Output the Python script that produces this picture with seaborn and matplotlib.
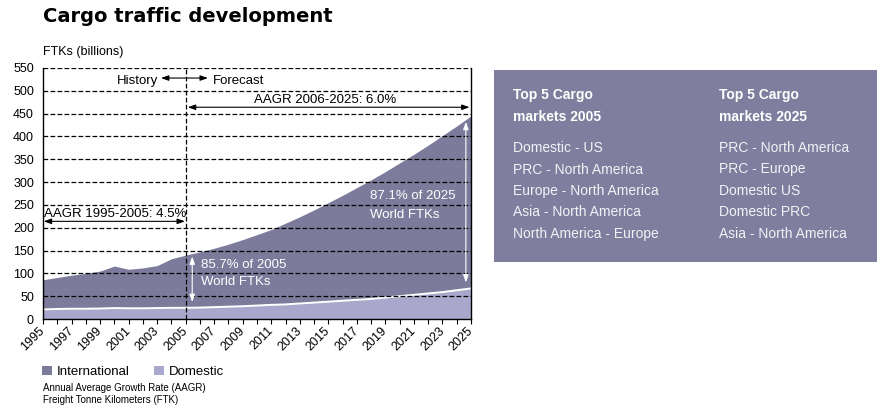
import matplotlib
matplotlib.use("Agg")
import matplotlib.pyplot as plt
from matplotlib.patches import Patch, Rectangle
import pandas as pd
import seaborn as sns

# FTKs (billions), 1995-2005 history and 2006-2025 forecast
years = list(range(1995, 2026))
domestic_ftk = [21, 22, 22.5, 22.5, 23, 24, 23.5, 23.5, 24, 24.5, 24.5,
                25, 26, 27, 28, 29.5, 31, 32, 34, 36, 38,
                40, 42, 44, 47, 50, 53, 56, 59, 63, 67]
international_ftk = [65, 69, 73.5, 77.5, 82, 92, 85.5, 88.5, 93, 107.5, 115.5,
                     122, 129, 137, 146, 155.5, 165, 178, 190, 203, 217,
                     231, 246, 261, 276, 292, 308, 325, 343, 360, 378]
y_ticks = list(range(0, 551, 50))
label_years = list(range(1995, 2026, 2))

series_names = ["International", "Domestic"]
top5_2005 = ["Domestic - US", "PRC - North America", "Europe - North America",
             "Asia - North America", "North America - Europe"]
top5_2025 = ["PRC - North America", "PRC - Europe", "Domestic US",
             "Domestic PRC", "Asia - North America"]

INTL = "#7c7b9b"
DOM = "#a9a8cc"
BOX = "#7f7e9e"

df = pd.DataFrame({"year": years, "Domestic": domestic_ftk,
                   "International": international_ftk})
df["Total"] = df["Domestic"] + df["International"]

sns.set_style("white")
plt.rcParams["font.family"] = ["Liberation Sans", "DejaVu Sans"]
for key in ["text.color", "axes.labelcolor", "xtick.color", "ytick.color"]:
    plt.rcParams[key] = "black"

W, H = 878, 409
fig = plt.figure(figsize=(W / 100, H / 100), dpi=100)
ax = fig.add_axes([43 / W, 1 - 319 / H, (471 - 43) / W, (319 - 68) / H])

# stacked areas: domestic at the bottom, international on top
ax.fill_between(df["year"], 0, df["Domestic"], color=DOM, lw=0, zorder=1)
ax.fill_between(df["year"], df["Domestic"], df["Total"], color=INTL, lw=0, zorder=1)
sns.lineplot(data=df, x="year", y="Domestic", color="white", lw=1.4,
             ax=ax, zorder=2, legend=False)

ax.set_xlim(1995, 2025)
ax.set_ylim(0, 550)

dash = (0, (3.8, 1.8))
for yv in y_ticks[1:]:
    ax.axhline(yv, color="black", lw=0.9, ls=dash, zorder=3)
ax.axvline(2005, color="black", lw=0.9, ls=dash, zorder=3)

for side in ["left", "bottom", "right"]:
    ax.spines[side].set_visible(True)
    ax.spines[side].set_color("black")
    ax.spines[side].set_linewidth(1.0)
ax.spines["top"].set_visible(False)

ax.set_yticks(y_ticks)
ax.set_yticklabels([str(v) for v in y_ticks], fontsize=9)
ax.tick_params(axis="y", length=0, pad=6.5)
ax.set_xticks(years, minor=True)
ax.set_xticks(label_years)
ax.set_xticklabels([str(y) for y in label_years], fontsize=9, rotation=45,
                   ha="right", va="center", rotation_mode="anchor")
ax.tick_params(axis="x", which="both", direction="out", length=3.5, width=0.8,
               color="black", bottom=True, pad=3.5)
ax.set_xlabel("")
ax.set_ylabel("")


def double_arrow(x0, x1, y0, y1, color):
    ax.annotate("", xy=(x1, y1), xytext=(x0, y0),
                arrowprops=dict(arrowstyle="<|-|>,head_length=0.45,head_width=0.16",
                                color=color, lw=0.8, shrinkA=0, shrinkB=0),
                zorder=5)


def label(x, y, s, color="black", ha="left"):
    ax.text(x, y, s, ha=ha, va="baseline", fontsize=9.5, color=color, zorder=5)


# history / forecast marker
label(2003.1, 515, "History", ha="right")
label(2006.9, 515, "Forecast")
double_arrow(2003.27, 2006.56, 528, 528, "black")

# growth-rate spans
label(2014.76, 473, "AAGR 2006-2025: 6.0%", ha="center")
double_arrow(2005.15, 2024.9, 464, 464, "black")
label(1995.05, 224, "AAGR 1995-2005: 4.5%")
double_arrow(1995.05, 2004.95, 214, 214, "black")

# international share labels
label(2006.05, 111.5, "85.7% of 2005", color="white")
label(2006.05, 75, "World FTKs", color="white")
double_arrow(2005.46, 2005.46, 37, 137, "white")
label(2017.92, 263, "87.1% of 2025", color="white")
label(2017.92, 222, "World FTKs", color="white")
double_arrow(2024.64, 2024.64, 80, 432, "white")

# titles
fig.text(43 / W, 1 - 22 / H, "Cargo traffic development", fontsize=14,
         fontweight="bold", family="DejaVu Sans", va="baseline", ha="left")
fig.text(43 / W, 1 - 54.5 / H, "FTKs (billions)", fontsize=9,
         va="baseline", ha="left")

# legend and footnotes
handles = [Patch(facecolor=INTL, edgecolor="none"),
           Patch(facecolor=DOM, edgecolor="none")]
fig.legend(handles, series_names, loc="center left",
           bbox_to_anchor=(42 / W, 1 - 372 / H), ncol=2, frameon=False,
           fontsize=9.5, handlelength=0.75, handleheight=0.7,
           handletextpad=0.35, columnspacing=1.9, borderpad=0,
           borderaxespad=0)
fig.text(43 / W, 1 - 388 / H, "Annual Average Growth Rate (AAGR)",
         fontsize=7, va="center", ha="left")
fig.text(43 / W, 1 - 400 / H, "Freight Tonne Kilometers (FTK)",
         fontsize=7, va="center", ha="left")

# top-5 markets panel
fig.add_artist(Rectangle((494 / W, 1 - 262 / H), (877 - 494) / W, (262 - 70) / H,
                         transform=fig.transFigure, facecolor=BOX,
                         edgecolor="none", zorder=0))
for x_px, year_label, markets in [(513, "2005", top5_2005), (719, "2025", top5_2025)]:
    fig.text(x_px / W, 1 - 95 / H, "Top 5 Cargo", fontsize=10, fontweight="bold",
             color="white", va="center", ha="left")
    fig.text(x_px / W, 1 - 117 / H, f"markets {year_label}", fontsize=10,
             fontweight="bold", color="white", va="center", ha="left")
    for i, m in enumerate(markets):
        fig.text(x_px / W, 1 - (148 + 21.5 * i) / H, m, fontsize=10,
                 color="#f2f2f6", va="center", ha="left")

fig.savefig("out.png", dpi=100)
